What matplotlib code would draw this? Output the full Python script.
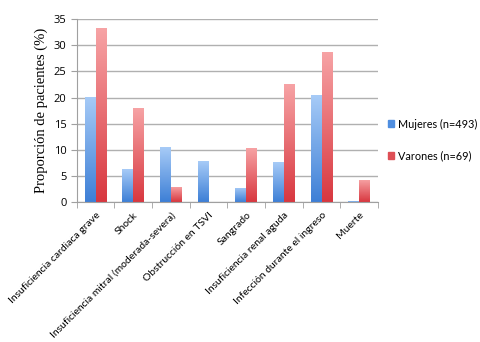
import numpy as np
import matplotlib
matplotlib.use("Agg")
from matplotlib import pyplot as plt
from matplotlib.colors import LinearSegmentedColormap

categorias = ['Insuficiencia cardiaca grave', 'Shock',
              'Insuficiencia mitral (moderada-severa)', 'Obstrucción en TSVI',
              'Sangrado', 'Insuficiencia renal aguda',
              'Infección durante el ingreso', 'Muerte']
mujeres = [20.2, 6.3, 10.5, 7.8, 2.7, 7.6, 20.4, 0.15]
varones = [33.3, 18.1, 2.9, 0.0, 10.4, 22.6, 28.7, 4.3]
series = ['Mujeres (n=493)', 'Varones (n=69)']

azul = LinearSegmentedColormap.from_list('azul', ['#3d7fd6', '#a7cbf7'])
rojo = LinearSegmentedColormap.from_list('rojo', ['#d8373f', '#f7a4a6'])

fig = plt.figure(figsize=(4.8, 3.42), dpi=100)
ax = fig.add_axes([0.16, 0.409, 0.6275, 0.535])

x = np.arange(len(categorias))
w = 0.29
grad = np.linspace(0, 1, 256).reshape(-1, 1)
for vals, off, cmap, col, lab in [(mujeres, -w/2, azul, '#5b95e0', series[0]),
                                  (varones, w/2, rojo, '#e05a60', series[1])]:
    bars = ax.bar(x + off, vals, w, color=col, label=lab, zorder=2)
    for b in bars:
        h = b.get_height()
        if h <= 0:
            continue
        b.set_facecolor('none')
        im = ax.imshow(grad, cmap=cmap, aspect='auto', origin='lower',
                       extent=(b.get_x(), b.get_x() + b.get_width(), 0, h), zorder=2)
        im.set_clip_path(b)

ax.set_xlim(-0.5, len(categorias) - 0.5)
ax.set_ylim(0, 35)
ax.set_yticks(range(0, 36, 5))
ax.yaxis.grid(True, color='#b0b0b0', linewidth=1.0, zorder=0)
ax.set_axisbelow(True)
for s in ['top', 'right']:
    ax.spines[s].set_visible(False)
for s in ['left', 'bottom']:
    ax.spines[s].set_color('#a0a0a0')
ax.set_xticks(x)
ax.set_xticklabels(categorias, rotation=45, ha='right', rotation_mode='anchor',
                   fontsize=7.5, family='Lato')
ax.set_xticks(np.arange(-0.5, len(categorias), 1), minor=True)
ax.tick_params(axis='x', which='major', length=0, pad=6)
ax.tick_params(axis='x', which='minor', length=4, color='#a0a0a0')
ax.tick_params(axis='y', length=4, color='#a0a0a0', labelsize=8)
for t in ax.get_yticklabels():
    t.set_family('Open Sans')
ax.set_ylabel('Proporción de pacientes (%)', family='Liberation Serif', fontsize=10.5)

h = [plt.Rectangle((0, 0), 1, 1, color='#4f8ee0'), plt.Rectangle((0, 0), 1, 1, color='#de4f55')]
leg = ax.legend(h, series, loc='center left', bbox_to_anchor=(1.0, 0.34), frameon=False,
                prop={'family': 'Lato', 'size': 7.8}, handlelength=0.6, handleheight=0.6,
                handletextpad=0.3, labelspacing=1.9, borderaxespad=0.5)

fig.savefig('out.png', dpi=100)
